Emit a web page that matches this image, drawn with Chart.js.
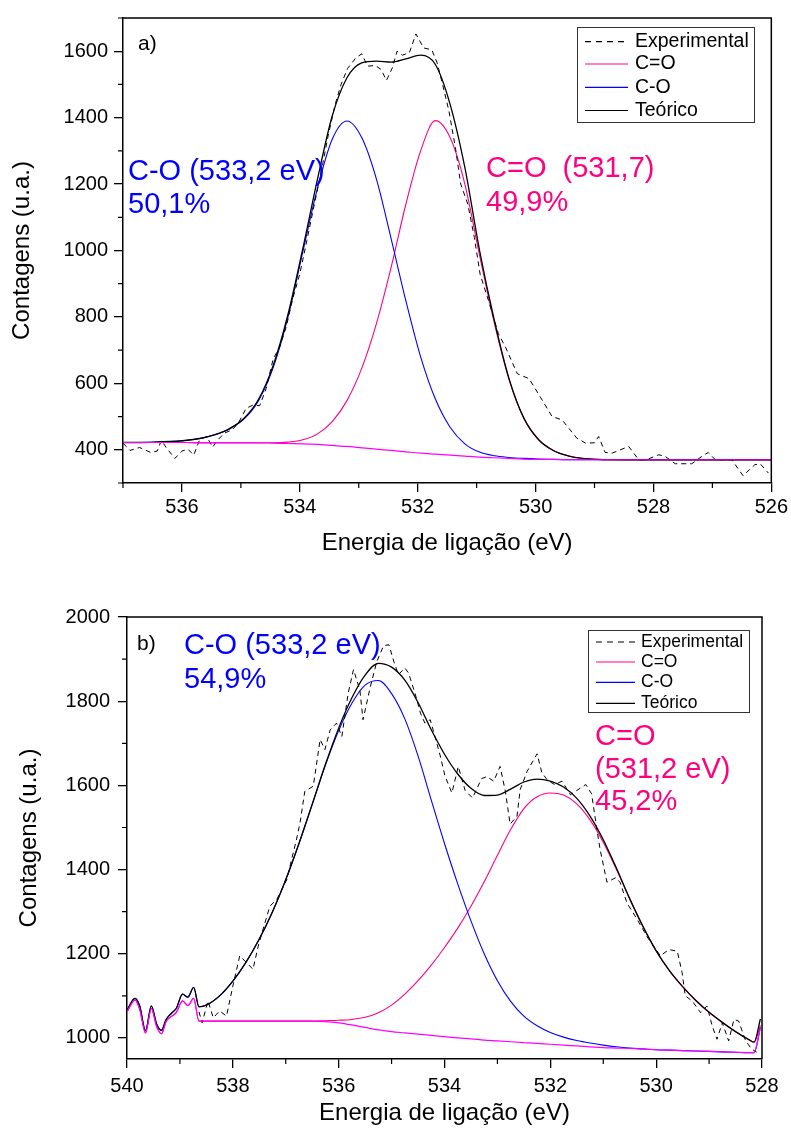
<!DOCTYPE html>
<html lang="pt">
<head>
<meta charset="utf-8">
<title>XPS O 1s</title>
<script src="https://cdn.jsdelivr.net/npm/chart.js@4.4.1/dist/chart.umd.min.js"></script>
<style>
  html, body { margin: 0; padding: 0; background: #fff; }
  #page { position: relative; width: 791px; height: 1128px; overflow: hidden; }
  #page canvas { position: absolute; left: 0; }
  #chartA { top: 0; }
  #chartB { top: 564px; }
</style>
</head>
<body>
<div id="page">
  <canvas id="chartA" width="791" height="564"></canvas>
  <canvas id="chartB" width="791" height="564"></canvas>
</div>
<script>
// ---- panel a) ----
const aXTicks = [536, 534, 532, 530, 528, 526];
const aYTicks = [400, 600, 800, 1000, 1200, 1400, 1600];

// energy grid shared by the fitted curves (eV)
const aEnergy = [537.0, 536.7, 536.45, 536.2, 535.95, 535.7, 535.45, 535.2, 534.95, 534.7,
  534.45, 534.2, 533.95, 533.7, 533.45, 533.2, 532.95, 532.7, 532.45, 532.2,
  531.95, 531.7, 531.45, 531.2, 530.95, 530.7, 530.45, 530.2, 529.95, 529.7,
  529.45, 529.2, 528.95, 528.45, 527.95, 527.2, 526.45, 526.0];
const aBackground = [422, 422, 422, 422, 422, 421, 421, 421, 421, 421,
  420, 419, 418, 416, 413, 410, 406, 402, 398, 394,
  390, 387, 384, 381, 378, 376, 374, 372, 371, 371,
  370, 370, 370, 370, 370, 370, 370, 370];
const aCO = [422, 422, 423, 425, 428, 434, 445, 462, 492, 548,
  648, 800, 995, 1188, 1335, 1390, 1340, 1215, 1035, 848,
  680, 553, 468, 418, 393, 382, 377, 374, 372, 371,
  370, 370, 370, 370, 370, 370, 370, 370];
const aCdO = [422, 422, 422, 422, 422, 421, 421, 421, 421, 421,
  421, 423, 430, 448, 485, 548, 645, 780, 950, 1140,
  1300, 1391, 1340, 1200, 985, 782, 612, 495, 430, 398,
  382, 374, 371, 370, 370, 370, 370, 370];
const aFit = [422, 422, 423, 425, 428, 434, 445, 463, 494, 552,
  655, 808, 1005, 1215, 1405, 1520, 1565, 1570, 1567, 1577,
  1588, 1560, 1440, 1250, 1000, 790, 614, 496, 431, 398,
  382, 374, 371, 370, 370, 370, 370, 370];

const aExpEnergy = [537.0, 536.88, 536.72, 536.53, 536.42, 536.35, 536.26, 536.12, 536.0, 535.9,
  535.8, 535.7, 535.58, 535.48, 535.38, 535.28, 535.15, 535.05, 534.91, 534.8,
  534.68, 534.57, 534.45, 534.35, 534.23, 534.12, 534.0, 533.88, 533.77, 533.65,
  533.52, 533.4, 533.3, 533.19, 533.05, 532.95, 532.85, 532.72, 532.62, 532.53,
  532.43, 532.35, 532.26, 532.14, 532.03, 531.9, 531.76, 531.67, 531.58, 531.47,
  531.36, 531.27, 531.15, 531.04, 530.94, 530.8, 530.63, 530.51, 530.31, 530.11,
  529.92, 529.72, 529.55, 529.3, 529.15, 529.0, 528.93, 528.82, 528.7, 528.42,
  528.25, 528.12, 527.91, 527.8, 527.63, 527.35, 527.18, 527.07, 526.95, 526.67,
  526.48, 526.28, 526.19, 526.05];
const aExpCounts = [420, 398, 407, 392, 396, 428, 405, 374, 396, 402,
  384, 430, 440, 408, 432, 450, 460, 478, 525, 534,
  533, 585, 675, 705, 770, 855, 930, 1030, 1125, 1225,
  1345, 1440, 1500, 1548, 1580, 1592, 1555, 1557, 1545, 1512,
  1550, 1600, 1588, 1596, 1652, 1610, 1604, 1565, 1502, 1420,
  1310, 1200, 1140, 1040, 928, 850, 749, 709, 629, 614,
  559, 500, 490, 435, 420, 421, 440, 392, 390, 410,
  370, 370, 385, 380, 358, 358, 380, 392, 370, 370,
  322, 355, 358, 330];

// ---- panel b) ----
const bXTicks = [540, 538, 536, 534, 532, 530, 528];
const bYTicks = [1000, 1200, 1400, 1600, 1800, 2000];

const bEnergy = [540.0, 539.85, 539.76, 539.65, 539.54, 539.44, 539.35, 539.26, 539.15, 539.07,
  538.95, 538.85, 538.74, 538.64,
  538.5, 538.25, 538.0, 537.75, 537.5, 537.25, 537.0, 536.75, 536.5, 536.25,
  536.0, 535.75, 535.5, 535.25, 535.0, 534.75, 534.5, 534.25, 534.0, 533.75,
  533.5, 533.25, 533.0, 532.75, 532.5, 532.25, 532.0, 531.75, 531.5, 531.25,
  531.0, 530.75, 530.5, 530.25, 530.0, 529.75, 529.5, 529.25, 529.0, 528.75,
  528.5, 528.25, 528.15, 528.03];
const bBackground = [1062, 1090, 1068, 1012, 1070, 1027, 1010, 1039, 1052, 1060,
  1088, 1077, 1094, 1040,
  1040, 1040, 1040, 1040, 1040, 1040, 1040, 1040, 1040, 1039,
  1036, 1031, 1025, 1019, 1015, 1012, 1009, 1006, 1003, 1000,
  998, 995, 993, 991, 989, 987, 985, 983, 981, 979,
  977, 976, 975, 974, 972, 971, 970, 969, 968, 967,
  966, 965, 965, 1025];
const bCO = [1066, 1094, 1076, 1017, 1076, 1033, 1018, 1044, 1060, 1070,
  1104, 1097, 1120, 1074,
  1078, 1100, 1135, 1180, 1235, 1300, 1376, 1462, 1555, 1648,
  1730, 1795, 1838, 1849, 1818, 1758, 1670, 1565, 1462, 1366,
  1278, 1200, 1136, 1087, 1052, 1029, 1013, 1002, 994, 988,
  983, 979, 976, 974, 972, 971, 970, 969, 968, 967,
  966, 965, 965, 1025];
const bCdO = [1062, 1090, 1068, 1012, 1070, 1027, 1010, 1039, 1052, 1060,
  1088, 1077, 1094, 1040,
  1040, 1040, 1040, 1040, 1040, 1040, 1040, 1040, 1040, 1041,
  1042, 1044, 1049, 1060, 1078, 1104, 1136, 1173, 1215, 1261,
  1313, 1371, 1434, 1495, 1545, 1573, 1582, 1577, 1556, 1518,
  1465, 1400, 1330, 1265, 1207, 1160, 1122, 1089, 1061, 1037,
  1015, 996, 990, 1030];
const bFit = [1066, 1094, 1076, 1017, 1076, 1033, 1018, 1044, 1060, 1070,
  1104, 1097, 1120, 1074,
  1078, 1100, 1135, 1180, 1235, 1300, 1376, 1462, 1555, 1650,
  1736, 1808, 1862, 1890, 1881, 1850, 1797, 1732, 1674, 1627,
  1593, 1576, 1577, 1591, 1608, 1615, 1610, 1596, 1569, 1527,
  1471, 1403, 1331, 1265, 1207, 1160, 1122, 1089, 1061, 1037,
  1015, 996, 990, 1045];

const bExpEnergy = [538.64, 538.58, 538.47, 538.37, 538.25, 538.12, 538.0, 537.87, 537.74, 537.62,
  537.52, 537.43, 537.3, 537.17, 536.98, 536.92, 536.8, 536.73, 536.64, 536.48,
  536.35, 536.26, 536.16, 536.04, 535.94, 535.82, 535.72, 535.6, 535.54, 535.4,
  535.28, 535.15, 535.05, 534.95, 534.87, 534.75, 534.68, 534.56, 534.45, 534.37,
  534.27, 534.2, 534.08, 533.99, 533.86, 533.74, 533.61, 533.47, 533.3, 533.2,
  533.07, 532.95, 532.85, 532.76, 532.63, 532.57, 532.44, 532.25, 532.16, 532.05,
  531.92, 531.78, 531.62, 531.5, 531.33, 531.22, 531.12, 531.06, 530.93, 530.76,
  530.68, 530.55, 530.36, 530.17, 529.92, 529.76, 529.6, 529.51, 529.45, 529.32,
  529.16, 529.04, 528.94, 528.85, 528.75, 528.63, 528.53, 528.44, 528.31, 528.19,
  528.1];
const bExpCounts = [1062, 1036, 1088, 1048, 1064, 1052, 1123, 1195, 1179, 1163,
  1218, 1258, 1313, 1329, 1376, 1408, 1470, 1511, 1586, 1598,
  1709, 1685, 1732, 1748, 1716, 1819, 1875, 1827, 1756, 1835,
  1894, 1932, 1934, 1891, 1863, 1879, 1867, 1820, 1770, 1748,
  1756, 1725, 1670, 1622, 1582, 1645, 1588, 1570, 1616, 1621,
  1610, 1645, 1586, 1508, 1527, 1590, 1633, 1675, 1630, 1612,
  1602, 1610, 1578, 1588, 1602, 1580, 1495, 1448, 1370, 1381,
  1369, 1320, 1282, 1240, 1195, 1210, 1206, 1155, 1100, 1088,
  1060, 1076, 1028, 997, 1036, 993, 1044, 1040, 993, 973,
  966];

const FONT = '"Liberation Sans", Arial, Helvetica, sans-serif';
const PINK = '#ff0080';
const BLUE = '#0000ff';
const MAGENTA = '#ff00ff';

Chart.defaults.font.family = FONT;
Chart.defaults.color = '#000';

// per-panel decoration: labels, legend box, minor ticks
const panels = {
  chartA: {
    notes: [
      { text: 'a)', x: 138, y: 50, size: 21, color: '#000' },
      { text: 'C-O (533,2 eV)', x: 128, y: 180, size: 29, color: BLUE },
      { text: '50,1%', x: 128, y: 213, size: 29, color: BLUE },
      { text: 'C=O  (531,7)', x: 486, y: 177, size: 29, color: PINK },
      { text: '49,9%', x: 486, y: 211, size: 29, color: PINK }
    ],
    legend: { x: 577, y: 27, w: 177, h: 95, rows: [41.7, 64, 87.3, 110.5], x1: 585, x2: 628, tx: 635, size: 19.5 }
  },
  chartB: {
    notes: [
      { text: 'b)', x: 137, y: 86, size: 21, color: '#000' },
      { text: 'C-O (533,2 eV)', x: 184, y: 90, size: 29, color: BLUE },
      { text: '54,9%', x: 184, y: 124, size: 29, color: BLUE },
      { text: 'C=O', x: 595, y: 181, size: 29, color: PINK },
      { text: '(531,2 eV)', x: 595, y: 213.5, size: 29, color: PINK },
      { text: '45,2%', x: 595, y: 246, size: 29, color: PINK }
    ],
    legend: { x: 588, y: 66, w: 161, h: 82, rows: [78, 98, 118.3, 139.3], x1: 596, x2: 635, tx: 641, size: 17.5 }
  }
};
const legendLabels = ['Experimental', 'C=O', 'C-O', 'Teórico'];

const decor = {
  id: 'decor',
  afterDraw(chart) {
    const p = panels[chart.canvas.id];
    const { ctx, chartArea: a } = chart;
    const sx = chart.scales.x, sy = chart.scales.y;
    ctx.save();

    // close the frame on top and right
    ctx.strokeStyle = '#000';
    ctx.lineWidth = 1.5;
    ctx.beginPath();
    ctx.moveTo(a.left, a.top);
    ctx.lineTo(a.right, a.top);
    ctx.lineTo(a.right, a.bottom);
    ctx.stroke();

    // minor ticks: every 1 eV and every 100 counts
    const xMajor = sx.ticks.map(t => t.value);
    const yMajor = sy.ticks.map(t => t.value);
    ctx.lineWidth = 1.2;
    ctx.beginPath();
    for (let v = Math.ceil(sx.min); v <= sx.max; v++) {
      if (xMajor.includes(v)) continue;
      const px = sx.getPixelForValue(v);
      ctx.moveTo(px, a.bottom);
      ctx.lineTo(px, a.bottom + 5);
    }
    for (let v = Math.ceil(sy.min / 100) * 100; v <= sy.max; v += 100) {
      if (yMajor.includes(v)) continue;
      const py = sy.getPixelForValue(v);
      ctx.moveTo(a.left, py);
      ctx.lineTo(a.left - 5, py);
    }
    ctx.stroke();

    // peak labels
    ctx.textAlign = 'left';
    ctx.textBaseline = 'alphabetic';
    p.notes.forEach(n => {
      ctx.font = `${n.size}px ${FONT}`;
      ctx.fillStyle = n.color;
      ctx.fillText(n.text, n.x, n.y);
    });

    // legend box
    const lg = p.legend;
    ctx.fillStyle = '#fff';
    ctx.fillRect(lg.x, lg.y, lg.w, lg.h);
    ctx.strokeStyle = '#333';
    ctx.lineWidth = 1;
    ctx.strokeRect(lg.x + 0.5, lg.y + 0.5, lg.w, lg.h);
    ctx.font = `${lg.size}px ${FONT}`;
    ctx.textBaseline = 'middle';
    legendLabels.forEach((label, i) => {
      const ds = chart.data.datasets.find(d => d.label === label);
      const y = lg.rows[i];
      ctx.strokeStyle = ds.borderColor;
      ctx.lineWidth = 1.2;
      ctx.setLineDash(ds.borderDash ? [6, 5] : []);
      ctx.beginPath();
      ctx.moveTo(lg.x1, y);
      ctx.lineTo(lg.x2, y);
      ctx.stroke();
      ctx.setLineDash([]);
      ctx.fillStyle = '#000';
      ctx.fillText(label, lg.tx, y);
    });
    ctx.restore();
  }
};

function points(xs, ys) {
  return xs.map((x, i) => ({ x: x, y: ys[i] }));
}

function curve(label, xs, ys, color, width, order, extra) {
  return Object.assign({
    label: label,
    data: points(xs, ys),
    borderColor: color,
    borderWidth: width,
    pointRadius: 0,
    fill: false,
    order: order,
    cubicInterpolationMode: 'monotone'
  }, extra || {});
}

function makeChart(id, cfg) {
  return new Chart(document.getElementById(id), {
    type: 'line',
    data: { datasets: cfg.datasets },
    plugins: [decor],
    options: {
      responsive: false,
      animation: false,
      devicePixelRatio: 1,
      layout: { padding: cfg.padding },
      plugins: { legend: { display: false }, tooltip: { enabled: false } },
      scales: {
        x: {
          type: 'linear',
          reverse: true,
          min: cfg.xMin,
          max: cfg.xMax,
          afterBuildTicks: s => { s.ticks = cfg.xTicks.map(v => ({ value: v })); },
          afterFit: s => { s.height = cfg.xHeight; },
          ticks: { font: { size: 20 }, color: '#000', padding: cfg.xTickPad, maxRotation: 0, autoSkip: false,
            callback: v => String(v) },
          grid: { drawOnChartArea: false, drawTicks: true, tickLength: 9, color: '#000', lineWidth: 1.3 },
          border: { display: true, color: '#000', width: 1.5 },
          title: { display: true, text: 'Energia de ligação (eV)', color: '#000',
            font: { size: 24 }, padding: { top: 0, bottom: cfg.xTitlePad } }
        },
        y: {
          type: 'linear',
          min: cfg.yMin,
          max: cfg.yMax,
          afterBuildTicks: s => { s.ticks = cfg.yTicks.map(v => ({ value: v })); },
          afterFit: s => { s.width = cfg.yWidth; },
          ticks: { font: { size: 20 }, color: '#000', padding: cfg.yTickPad, autoSkip: false,
            callback: v => String(v) },
          grid: { drawOnChartArea: false, drawTicks: true, tickLength: 9, color: '#000', lineWidth: 1.3 },
          border: { display: true, color: '#000', width: 1.5 },
          title: { display: true, text: 'Contagens (u.a.)', color: '#000',
            font: { size: 24 }, padding: { top: cfg.yTitlePad, bottom: 0 } }
        }
      }
    }
  });
}

makeChart('chartA', {
  xMin: 526, xMax: 537, yMin: 300, yMax: 1700,
  xTicks: aXTicks, yTicks: aYTicks,
  padding: { top: 15, right: 18, left: 0, bottom: 0 },
  xHeight: 81, yWidth: 123, yTickPad: 6, yTitlePad: 8, xTickPad: 3, xTitlePad: 6,
  datasets: [
    curve('Experimental', aExpEnergy, aExpCounts, '#000', 1, 2,
      { borderDash: [5, 4], cubicInterpolationMode: 'default', tension: 0 }),
    curve('C=O', aEnergy, aCdO, PINK, 1.1, 4),
    curve('C-O', aEnergy, aCO, BLUE, 1.1, 3),
    curve('Teórico', aEnergy, aFit, '#000', 1.3, 1),
    curve('Linha de base', aEnergy, aBackground, MAGENTA, 1.2, 0)
  ]
});

makeChart('chartB', {
  xMin: 528, xMax: 540, yMin: 950, yMax: 2000,
  xTicks: bXTicks, yTicks: bYTicks,
  padding: { top: 53, right: 29, left: 0, bottom: 0 },
  xHeight: 69, yWidth: 127, yTickPad: 8, yTitlePad: 15, xTickPad: 6, xTitlePad: 0,
  datasets: [
    curve('Experimental', bExpEnergy, bExpCounts, '#000', 1, 2,
      { borderDash: [5, 4], cubicInterpolationMode: 'default', tension: 0 }),
    curve('C=O', bEnergy, bCdO, PINK, 1.1, 4),
    curve('C-O', bEnergy, bCO, BLUE, 1.1, 3),
    curve('Teórico', bEnergy, bFit, '#000', 1.3, 1),
    curve('Linha de base', bEnergy, bBackground, MAGENTA, 1.2, 0)
  ]
});
</script>
</body>
</html>
